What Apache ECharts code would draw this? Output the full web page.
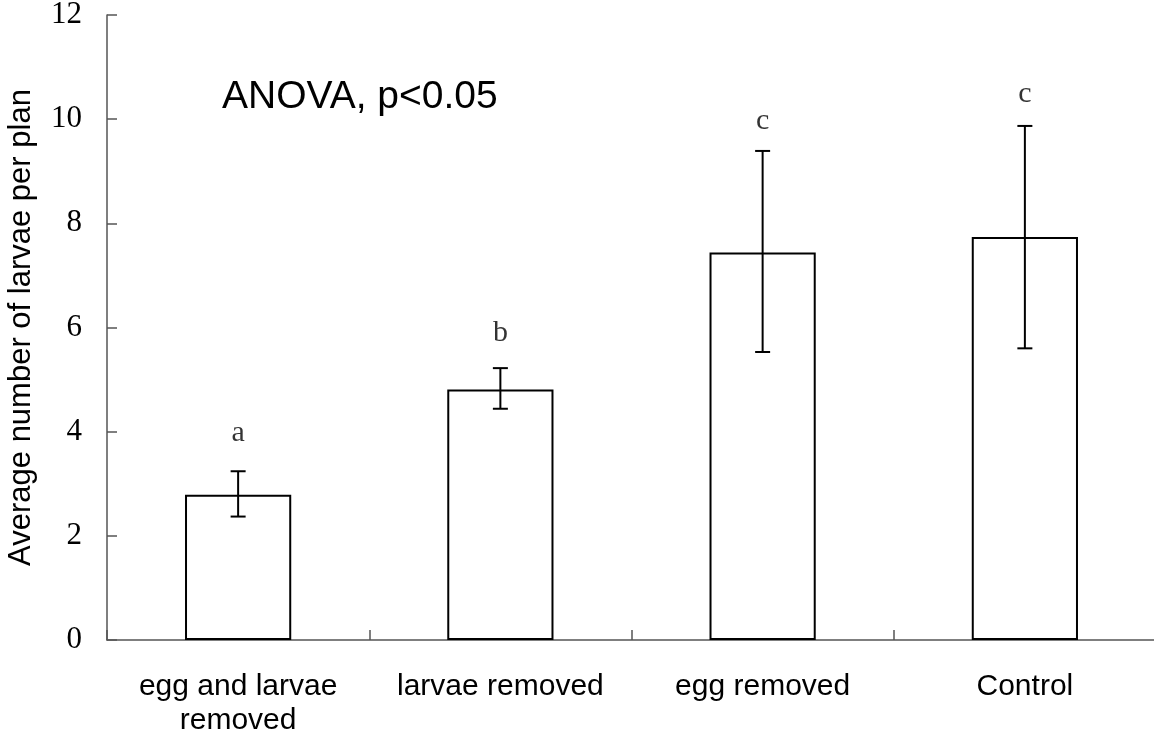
<!DOCTYPE html>
<html>
<head>
<meta charset="utf-8">
<script src="https://cdn.jsdelivr.net/npm/echarts@6/dist/echarts.min.js"></script>
<style>
  html, body { margin: 0; padding: 0; background: #fff; }
  #chart { width: 1154px; height: 738px; }
</style>
</head>
<body>
<div id="chart"></div>
<script>
  const categories = ['egg and larvae\nremoved', 'larvae removed', 'egg removed', 'Control'];
  const means = [2.79, 4.81, 7.44, 7.74];
  const errLow = [2.37, 4.44, 5.53, 5.60];
  const errHigh = [3.24, 5.22, 9.39, 9.87];
  const letters = ['a', 'b', 'c', 'c'];
  const letterPos = [3.98, 5.9, 9.96, 10.48];
  const yTicks = { min: 0, max: 12, interval: 2 };

  const chart = echarts.init(document.getElementById('chart'));

  chart.setOption({
    animation: false,
    grid: { left: 107, top: 15, width: 1049, height: 625, containLabel: false, outerBoundsMode: 'none' },
    xAxis: {
      type: 'category',
      data: categories,
      boundaryGap: true,
      axisLine: { lineStyle: { color: '#555', width: 1.5 } },
      axisTick: { show: true, interval: 0, inside: true, length: 10, lineStyle: { color: '#555', width: 1.5 } },
      axisLabel: {
        color: '#000',
        fontFamily: 'Liberation Sans',
        fontSize: 30,
        lineHeight: 34,
        margin: 30,
        interval: 0,
      },
    },
    yAxis: {
      type: 'value',
      min: yTicks.min,
      max: yTicks.max,
      interval: yTicks.interval,
      name: 'Average number of larvae per plan',
      nameLocation: 'middle',
      nameGap: 70,
      nameTextStyle: { color: '#000', fontFamily: 'Liberation Sans', fontSize: 31 },
      axisLine: { show: true, lineStyle: { color: '#555', width: 1.5 } },
      axisTick: { show: true, inside: true, length: 10, lineStyle: { color: '#555', width: 1.5 } },
      splitLine: { show: false },
      axisLabel: {
        color: '#000',
        fontFamily: 'Liberation Serif',
        fontSize: 31,
        margin: 25,
      },
    },
    graphic: [
      {
        type: 'text',
        left: 222,
        top: 78,
        style: {
          text: 'ANOVA, p<0.05',
          fontFamily: 'Liberation Sans',
          fontSize: 39,
          fill: '#000',
        },
      },
    ],
    series: [
      {
        name: 'mean',
        type: 'bar',
        data: means,
        barWidth: '40.5%',
        itemStyle: { color: '#fff', borderColor: '#000', borderWidth: 2 },
        z: 2,
      },
      {
        name: 'error',
        type: 'custom',
        data: categories.map((c, i) => [i, errLow[i], errHigh[i]]),
        renderItem: function (params, api) {
          const lo = api.coord([api.value(0), api.value(1)]);
          const hi = api.coord([api.value(0), api.value(2)]);
          const cap = 7.5;
          const style = { stroke: '#000', lineWidth: 2 };
          return {
            type: 'group',
            children: [
              { type: 'line', shape: { x1: lo[0], y1: lo[1], x2: hi[0], y2: hi[1] }, style: style },
              { type: 'line', shape: { x1: lo[0] - cap, y1: lo[1], x2: lo[0] + cap, y2: lo[1] }, style: style },
              { type: 'line', shape: { x1: hi[0] - cap, y1: hi[1], x2: hi[0] + cap, y2: hi[1] }, style: style },
            ],
          };
        },
        z: 3,
      },
      {
        name: 'letters',
        type: 'scatter',
        data: letterPos,
        symbolSize: 1,
        itemStyle: { color: 'rgba(0,0,0,0)' },
        label: {
          show: true,
          position: 'inside',
          formatter: (p) => letters[p.dataIndex],
          color: '#000',
          fontFamily: 'Liberation Serif',
          fontSize: 30,
        },
        z: 4,
      },
    ],
  });
</script>
</body>
</html>
